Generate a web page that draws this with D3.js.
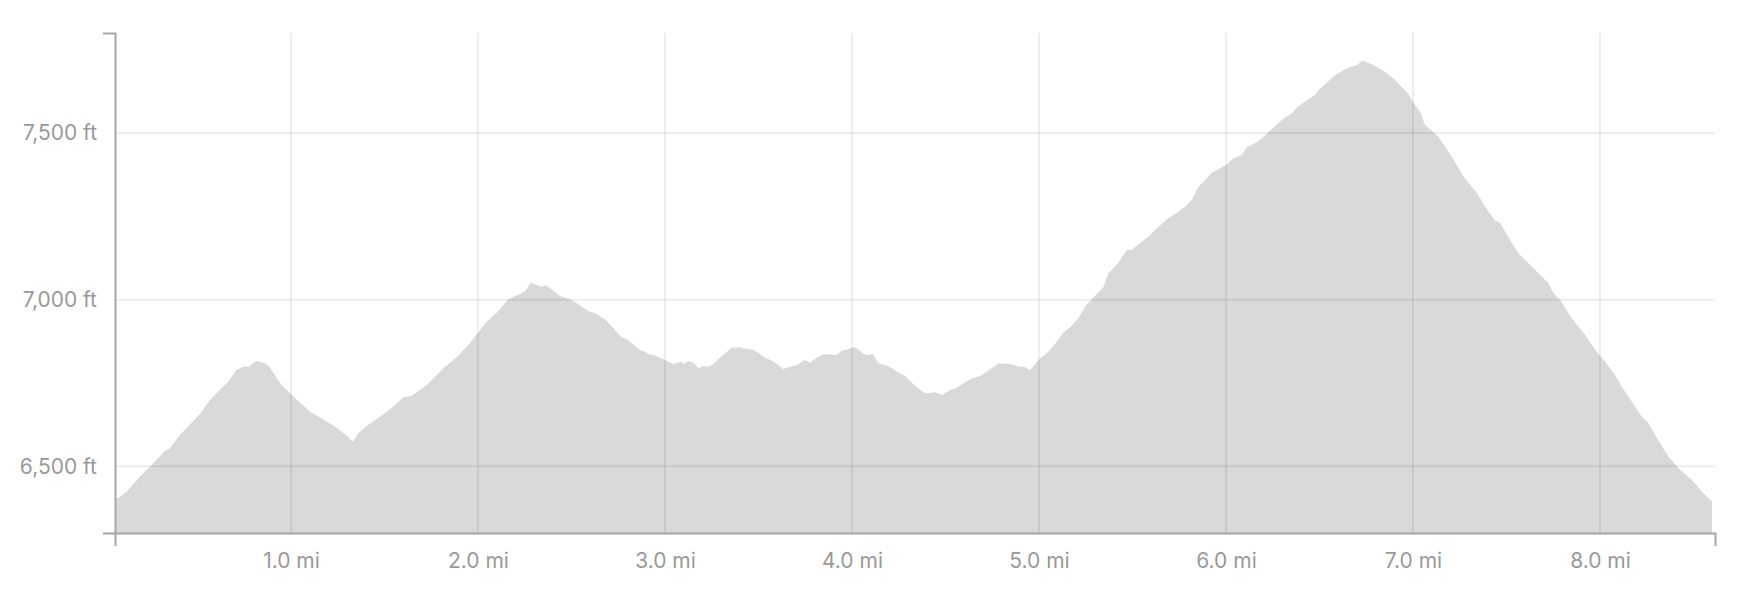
<!DOCTYPE html>
<html lang="en">
<head>
    <meta charset="UTF-8">
    <title>Elevation Profile</title>
    <script src="https://d3js.org/d3.v7.min.js"></script>
    <style>
        body {
            margin: 0;
            background-color: #fff;
        }
        .axis-label {
            font-family: Inter, "Noto Sans", Arial, sans-serif;
            font-size: 21px;
            fill: #999;
        }
    </style>
</head>
<body>
    <div id="chart"></div>
    <script>
        // Trail profile: distance in miles, elevation in feet
        const distances = [
            0.059, 0.121, 0.192, 0.264, 0.326, 0.353, 0.406, 0.513, 0.567, 0.602,
            0.656, 0.709, 0.754, 0.772, 0.816, 0.861, 0.884, 0.950, 0.995, 1.102,
            1.173, 1.244, 1.301, 1.330, 1.360, 1.405, 1.476, 1.547, 1.601, 1.645,
            1.726, 1.815, 1.886, 1.957, 2.046, 2.100, 2.162, 2.225, 2.257, 2.282,
            2.314, 2.340, 2.364, 2.403, 2.438, 2.492, 2.528, 2.590, 2.635, 2.688,
            2.724, 2.768, 2.804, 2.866, 2.893, 2.911, 2.938, 2.991, 3.045, 3.089,
            3.102, 3.125, 3.152, 3.179, 3.205, 3.235, 3.258, 3.285, 3.321, 3.357,
            3.401, 3.437, 3.472, 3.499, 3.526, 3.571, 3.598, 3.633, 3.669, 3.705,
            3.749, 3.776, 3.808, 3.847, 3.874, 3.918, 3.945, 3.981, 4.008, 4.034,
            4.061, 4.088, 4.111, 4.141, 4.177, 4.213, 4.240, 4.284, 4.320, 4.365,
            4.392, 4.445, 4.481, 4.525, 4.561, 4.597, 4.641, 4.686, 4.739, 4.784,
            4.846, 4.882, 4.926, 4.953, 4.997, 5.050, 5.095, 5.130, 5.166, 5.211,
            5.246, 5.282, 5.344, 5.371, 5.393, 5.425, 5.469, 5.496, 5.549, 5.585,
            5.639, 5.692, 5.746, 5.781, 5.817, 5.853, 5.889, 5.924, 5.969, 6.000,
            6.039, 6.084, 6.111, 6.156, 6.191, 6.245, 6.298, 6.352, 6.388, 6.441,
            6.477, 6.495, 6.531, 6.584, 6.647, 6.701, 6.729, 6.761, 6.797, 6.850,
            6.895, 6.939, 6.972, 7.002, 7.038, 7.064, 7.100, 7.136, 7.172, 7.207,
            7.270, 7.314, 7.341, 7.386, 7.439, 7.466, 7.519, 7.564, 7.617, 7.671,
            7.724, 7.751, 7.787, 7.849, 7.921, 7.974, 8.028, 8.081, 8.117, 8.224,
            8.260, 8.305, 8.367, 8.420, 8.492, 8.545, 8.590, 8.599
        ];
        const elevations = [
            6399, 6424, 6469, 6509, 6547, 6554, 6594, 6657, 6699, 6719,
            6749, 6789, 6801, 6797, 6817, 6809, 6799, 6744, 6719, 6664,
            6641, 6616, 6591, 6574, 6599, 6621, 6649, 6679, 6707, 6711,
            6744, 6794, 6827, 6869, 6934, 6961, 7001, 7017, 7029, 7051,
            7044, 7039, 7043, 7027, 7011, 7001, 6989, 6966, 6957, 6937,
            6914, 6887, 6879, 6849, 6844, 6837, 6834, 6821, 6807, 6814,
            6807, 6817, 6811, 6794, 6801, 6799, 6807, 6821, 6839, 6856,
            6857, 6852, 6849, 6841, 6829, 6817, 6807, 6792, 6799, 6804,
            6819, 6811, 6824, 6836, 6836, 6834, 6847, 6851, 6857, 6851,
            6837, 6834, 6837, 6809, 6804, 6794, 6784, 6771, 6751, 6729,
            6719, 6722, 6714, 6729, 6736, 6749, 6764, 6771, 6791, 6809,
            6807, 6801, 6797, 6789, 6819, 6844, 6874, 6901, 6917, 6944,
            6979, 7001, 7037, 7079, 7091, 7111, 7149, 7149, 7174, 7189,
            7219, 7244, 7264, 7279, 7299, 7339, 7359, 7381, 7394, 7404,
            7424, 7434, 7457, 7469, 7484, 7511, 7539, 7559, 7581, 7601,
            7614, 7629, 7647, 7674, 7694, 7704, 7717, 7711, 7701, 7684,
            7664, 7639, 7619, 7591, 7564, 7524, 7507, 7489, 7459, 7429,
            7369, 7339, 7321, 7279, 7237, 7231, 7179, 7139, 7109, 7079,
            7049, 7019, 6999, 6944, 6894, 6849, 6814, 6774, 6739, 6649,
            6629, 6584, 6529, 6494, 6459, 6424, 6399, 6397
        ];
        const xTicks = [1, 2, 3, 4, 5, 6, 7, 8];
        const yTicks = [6500, 7000, 7500];

        const width = 1744,
            height = 606,
            margin = { top: 33, right: 29, bottom: 73, left: 115 };

        const points = distances.map((d, i) => ({ dist: d, elev: elevations[i] }));

        const svg = d3.select('#chart').append('svg')
            .attr('width', width)
            .attr('height', height);

        const x = d3.scaleLinear()
            .domain([0.059, 8.615])
            .range([margin.left, width - margin.right]);

        const y = d3.scaleLinear()
            .domain([6300, 7800])
            .range([height - margin.bottom, margin.top]);

        // filled profile
        const area = d3.area()
            .x(p => x(p.dist))
            .y0(y(6300))
            .y1(p => y(p.elev));

        svg.append('path')
            .datum(points)
            .attr('d', area)
            .attr('fill', '#d9d9d9');

        // grid sits on top of the fill, so it shows darker over the grey
        const grid = svg.append('g')
            .attr('stroke', '#000')
            .attr('stroke-opacity', 0.07)
            .attr('stroke-width', 2);

        grid.selectAll('.v')
            .data(xTicks)
            .join('line')
            .attr('x1', d => x(d)).attr('x2', d => x(d))
            .attr('y1', margin.top).attr('y2', height - margin.bottom);

        grid.selectAll('.h')
            .data(yTicks)
            .join('line')
            .attr('x1', margin.left).attr('x2', width - margin.right)
            .attr('y1', d => y(d)).attr('y2', d => y(d));

        const xAxis = svg.append('g')
            .attr('transform', `translate(0, ${height - margin.bottom})`)
            .call(d3.axisBottom(x)
                .tickValues(xTicks)
                .tickFormat(d => `${d.toFixed(1)} mi`)
                .tickSizeInner(0)
                .tickSizeOuter(13)
                .tickPadding(20));

        const yAxis = svg.append('g')
            .attr('transform', `translate(${margin.left}, 0)`)
            .call(d3.axisLeft(y)
                .tickValues(yTicks)
                .tickFormat(d => `${d3.format(',')(d)} ft`)
                .tickSizeInner(0)
                .tickSizeOuter(12)
                .tickPadding(18));

        [xAxis, yAxis].forEach(ax => {
            ax.select('.domain')
                .attr('stroke', '#a6a6a6')
                .attr('stroke-width', 2);
            ax.selectAll('.tick line').remove();
            ax.selectAll('text')
                .attr('class', 'axis-label')
                .attr('fill', null)
                .attr('font-size', null)
                .attr('font-family', null);
        });
    </script>
</body>
</html>
